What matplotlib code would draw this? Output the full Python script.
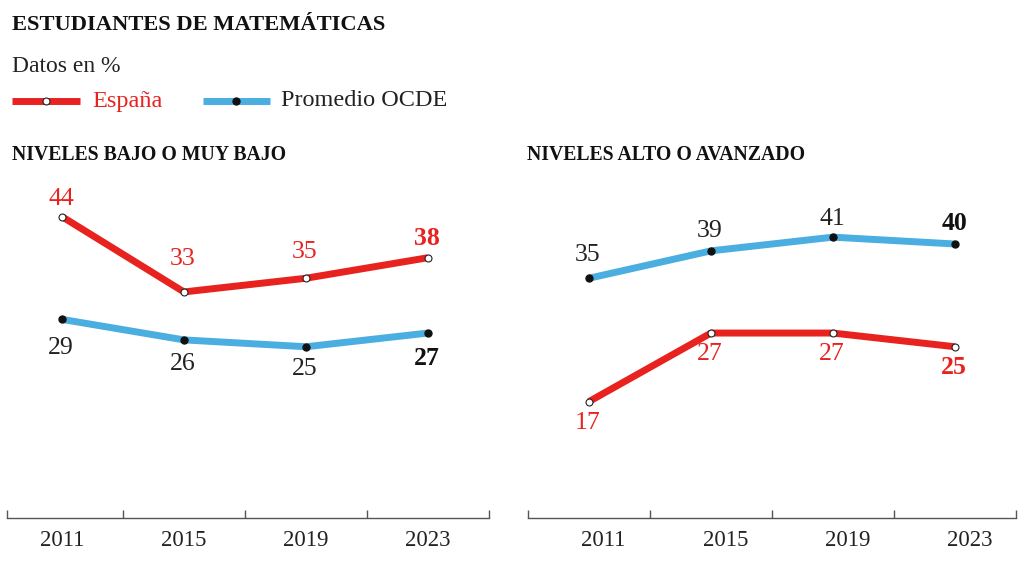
import matplotlib
matplotlib.use("Agg")
import matplotlib.pyplot as plt

plt.rcParams["font.family"] = ["Liberation Serif", "DejaVu Serif"]

years = ["2011", "2015", "2019", "2023"]

bajo_espana = [44, 33, 35, 38]
bajo_ocde = [29, 26, 25, 27]
alto_espana = [17, 27, 27, 25]
alto_ocde = [35, 39, 41, 40]

RED = "#e8231f"
BLUE = "#4aaee0"
GREY = "#555555"

fig = plt.figure(figsize=(10.24, 5.61), dpi=100)

# headline, subtitle and legend
fig.text(12 / 1024, 1 - 25 / 561, "ESTUDIANTES DE MATEMÁTICAS", fontsize=16.2,
         fontweight="bold", color="#111111", va="center", ha="left")
fig.text(12 / 1024, 1 - 67 / 561, "Datos en %", fontsize=17, color="#222222",
         va="center", ha="left")

leg_ax = fig.add_axes([0, 1 - 115 / 561, 1, 28 / 561])
leg_ax.set_xlim(0, 1024)
leg_ax.set_ylim(0, 28)
leg_ax.axis("off")
leg_ax.plot([12, 80], [14, 14], color=RED, lw=5, solid_capstyle="butt")
leg_ax.plot([46], [14], "o", ms=5, mfc="white", mec="#222222", mew=0.8)
leg_ax.text(92, 14, "España", color=RED, fontsize=17.5, va="center")
leg_ax.plot([203, 270], [14, 14], color=BLUE, lw=5, solid_capstyle="butt")
leg_ax.plot([236], [14], "o", ms=5, color="#111111")
leg_ax.text(281, 14, "Promedio OCDE", color="#222222", fontsize=17.5, va="center")

fig.text(12 / 1024, 1 - 155 / 561, "NIVELES BAJO O MUY BAJO", fontsize=14.2,
         fontweight="bold", color="#111111", va="center", ha="left")
fig.text(527 / 1024, 1 - 155 / 561, "NIVELES ALTO O AVANZADO", fontsize=14.2,
         fontweight="bold", color="#111111", va="center", ha="left")


def panel(rect, xmin, espana, ocde, esp_off, ocde_off, lab_shift):
    ax = fig.add_axes(rect)
    x = list(range(len(years)))
    ax.plot(x, ocde, color=BLUE, lw=5, solid_capstyle="butt", zorder=2)
    ax.plot(x, ocde, "o", ms=5, color="#111111", zorder=3)
    ax.plot(x, espana, color=RED, lw=5, solid_capstyle="butt", zorder=2)
    ax.plot(x, espana, "o", ms=5, mfc="white", mec="#222222", mew=0.8, zorder=3)

    last = len(years) - 1
    for i in x:
        w = "bold" if i == last else "normal"
        ax.annotate(str(espana[i]), (i, espana[i]), xytext=(-1, esp_off[i]),
                    textcoords="offset pixels", ha="center", va="center",
                    fontsize=18.5, color=RED, fontweight=w)
        ax.annotate(str(ocde[i]), (i, ocde[i]), xytext=(-1, ocde_off[i]),
                    textcoords="offset pixels", ha="center", va="center",
                    fontsize=18.5, color="#111111" if i == last else "#222222",
                    fontweight=w)

    ax.set_xlim(xmin, 3.5)
    ax.set_ylim(0, 50)
    for s in ["top", "left", "right"]:
        ax.spines[s].set_visible(False)
    ax.spines["bottom"].set_color(GREY)
    ax.spines["bottom"].set_linewidth(1)
    ax.set_yticks([])
    ax.set_xticks([xmin, 0.5, 1.5, 2.5, 3.5])
    ax.set_xticklabels([])
    ax.tick_params(axis="x", which="major", direction="in", length=6,
                   width=1, color=GREY)
    ax.set_xticks([i + lab_shift for i in x], minor=True)
    ax.set_xticklabels(years, minor=True)
    ax.tick_params(axis="x", which="minor", length=0, pad=9, labelsize=16.5,
                   labelcolor="#222222")
    return ax


bottom = 43 / 561
height = 342.5 / 561
panel([7 / 1024, bottom, 482 / 1024, height], -0.45,
      bajo_espana, bajo_ocde, [18, 33, 26, 19], [-29, -24, -22, -25], 0.0)
panel([528 / 1024, bottom, 488 / 1024, height], -0.5,
      alto_espana, alto_ocde, [-21, -21, -21, -21], [23, 20, 18, 20], 0.12)

fig.savefig("out.png", dpi=100)
